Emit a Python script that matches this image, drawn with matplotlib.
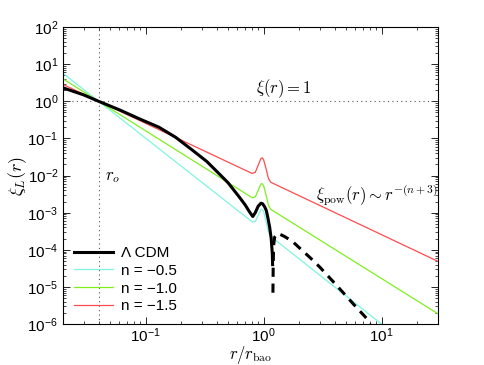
import matplotlib
matplotlib.use("Agg")
import matplotlib.pyplot as plt

plt.rcParams['font.family'] = ['Liberation Sans', 'DejaVu Sans']
plt.rcParams['mathtext.fontset'] = 'cm'

# Lambda CDM, positive part (solid)
lcdm_r = [0.02, 0.03, 0.04, 0.06, 0.09, 0.13, 0.18, 0.25, 0.33, 0.42, 0.50, 0.625, 0.70, 0.76, 0.81,
          0.85, 0.90, 0.95, 0.98, 1.02, 1.054, 1.09, 1.125, 1.16, 1.185, 1.192]
lcdm_y = [2.3, 1.48, 1.0, 0.59, 0.33, 0.20, 0.107, 0.048, 0.024, 0.0112, 0.0064, 0.0026, 0.0016, 0.00105, 0.00079,
          0.00100, 0.0015, 0.0018, 0.00175, 0.00145, 0.00115, 0.0007, 0.00041, 0.0002, 0.00008, 0.00004]
# Lambda CDM, negative part (|xi|, dashed)
neg_r = [1.200, 1.205, 1.215, 1.24, 1.32, 1.50, 1.75, 2.0, 2.5, 3.0, 4.16, 5.75, 7.5, 8.2]
neg_y = [7e-6, 3e-5, 1.3e-4, 2.2e-4, 2.8e-4, 2.3e-4, 1.7e-4, 1.15e-4, 6e-5, 3.4e-5, 1.1e-5, 3.5e-6, 1.4e-6, 8e-7]

# power-law models with BAO bump
pow_r = [0.02, 0.80, 0.85, 0.90, 0.95, 0.975, 1.00, 1.05, 1.10, 1.15, 30]
n05_r = [0.02, 0.80, 0.85, 0.90, 0.95, 0.975, 1.00, 1.05, 1.10, 1.15, 10]
n05_y = [5.66, 5.68e-4, 5.75e-4, 8.44e-4, 1.22e-3, 1.23e-3, 1.07e-3, 5.74e-4, 3.02e-4, 2.30e-4, 1.0e-6]
n10_y = [4.0, 2.54e-3, 2.65e-3, 4.01e-3, 5.94e-3, 6.06e-3, 5.36e-3, 2.95e-3, 1.58e-3, 1.23e-3, 1.9e-6]
n15_y = [2.83, 0.0114, 0.0122, 0.0190, 0.0289, 0.0299, 0.0268, 0.0151, 0.0083, 0.0066, 4.9e-5]

labels = ['Λ CDM', 'n = \u22120.5', 'n = \u22121.0', 'n = \u22121.5']
r_o = 0.04
xlim = (0.02, 30)
ylim = (1e-6, 1e2)

fig = plt.figure(figsize=(4.85, 3.65), dpi=100)
ax = fig.add_axes([0.130, 0.112, 0.773, 0.814])

ax.plot(xlim, [1, 1], ls=(0, (1, 3)), color='#555555', lw=0.8)
ax.plot([r_o, r_o], ylim, ls=(0, (1, 3)), color='#555555', lw=0.8)

ax.plot(lcdm_r, lcdm_y, color='black', lw=2.2, label=labels[0], zorder=5)
ax.plot(neg_r, neg_y, color='black', lw=2.2, ls=(0, (3, 2.2)), zorder=5)
ax.plot(n05_r, n05_y, color='#7ff5e0', lw=0.9, label=labels[1])
ax.plot(pow_r, n10_y, color='#7fef1f', lw=0.9, label=labels[2])
ax.plot(pow_r, n15_y, color='#ff4c4c', lw=0.9, label=labels[3])

ax.set_xscale('log')
ax.set_yscale('log')
ax.set_xlim(*xlim)
ax.set_ylim(*ylim)
ax.tick_params(which='both', direction='in', top=True, right=True, labelsize=11)
ax.tick_params(which='major', length=5, width=0.6)
ax.tick_params(which='minor', length=2.5, width=0.5)
ax.tick_params(axis='x', pad=2)
for s in ax.spines.values():
    s.set_linewidth(0.8)

ax.set_xlabel(r'$r/r_{\rm bao}$', fontsize=12, va='top')
ax.set_ylabel(r'$\xi_L(r)$', fontsize=13, va='center')
ax.xaxis.set_label_coords(0.5, -0.066)
ax.yaxis.set_label_coords(-0.12, 0.5)

ax.text(1.48, 2.2, r'$\xi(r)=1$', fontsize=12, ha='center', va='center')
ax.text(0.045, 0.009, r'$r_o$', fontsize=12, ha='left', va='center')
ax.text(30, 0.003, r'$\xi_{\rm pow}(r)\sim r^{-(n+3)}$', fontsize=12, ha='right', va='center')

leg = ax.legend(loc='lower left', frameon=False, fontsize=11, handlelength=2.6,
                labelspacing=0.25, borderaxespad=0.3, handletextpad=0.5)

fig.savefig('out.png', dpi=100)
